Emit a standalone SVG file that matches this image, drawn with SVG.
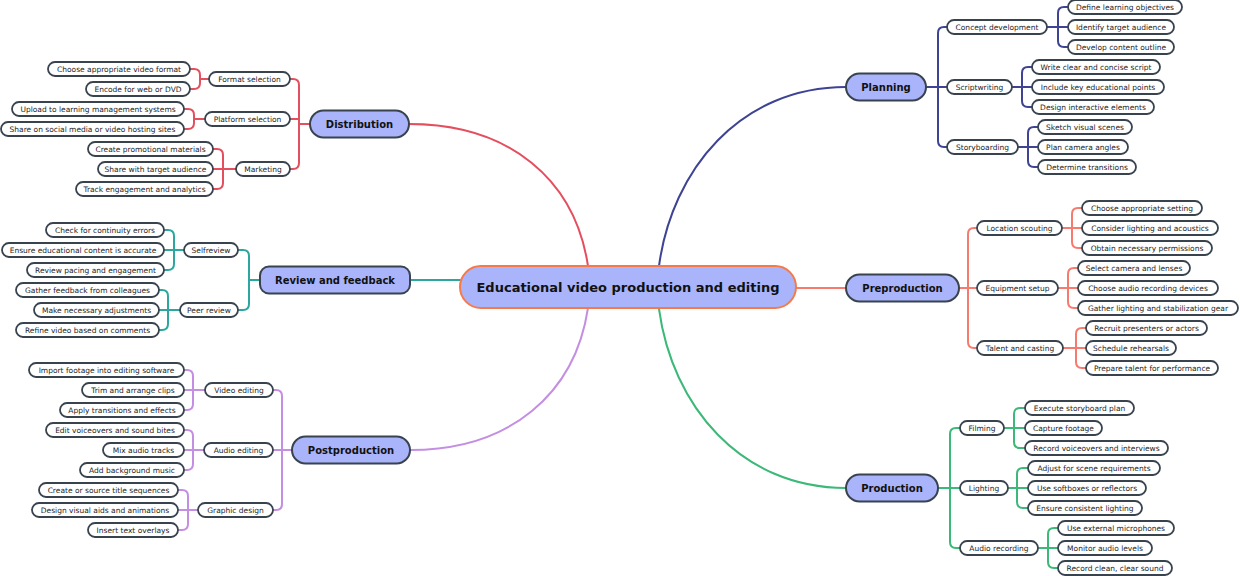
<svg xmlns="http://www.w3.org/2000/svg" width="1240" height="576" viewBox="0 0 1240 576">
<style>
.bg{fill:#ffffff}
.cn{fill:none;stroke-width:2;stroke-linecap:round;stroke-linejoin:round}
.c1{stroke:#3e4393}
.c2{stroke:#f77a6f}
.c3{stroke:#3cb878}
.c4{stroke:#e44f5f}
.c5{stroke:#2ba79f}
.c6{stroke:#c48fe2}
.leaf rect{fill:#ffffff;stroke:#38434e;stroke-width:1.8}
.leaf text{font-family:"DejaVu Sans","Liberation Sans",sans-serif;font-size:7.5px;fill:#1e1e1e;text-anchor:middle;dominant-baseline:central}
.main rect{fill:#a9b4fb;stroke:#38434e;stroke-width:2}
.main text{font-family:"DejaVu Sans","Liberation Sans",sans-serif;font-size:10px;font-weight:bold;fill:#111111;text-anchor:middle;dominant-baseline:central}
.root rect{fill:#a9b4fb;stroke:#f57a47;stroke-width:2}
.root text{font-family:"DejaVu Sans","Liberation Sans",sans-serif;font-size:13px;font-weight:bold;fill:#111111;text-anchor:middle;dominant-baseline:central}
</style>
<rect class="bg" x="0" y="0" width="1240" height="576"/>
<g id="connectors">
<path class="cn c1" d="M659 266C672 170 740 87 846 87"/>
<path class="cn c1" d="M926 87H947M938 87V33Q938 27 944 27H947M938 87V141Q938 147 944 147H947"/>
<path class="cn c1" d="M1047 27H1068M1058 27V13Q1058 7 1064 7H1068M1058 27V41Q1058 47 1064 47H1068"/>
<path class="cn c1" d="M1012 87H1032M1022 87V73Q1022 67 1028 67H1032M1022 87V101Q1022 107 1028 107H1032"/>
<path class="cn c1" d="M1018 147H1038M1028 147V133Q1028 127 1034 127H1038M1028 147V161Q1028 167 1034 167H1038"/>
<path class="cn c2" d="M796 288H846"/>
<path class="cn c2" d="M959 288H977M968 288V234Q968 228 974 228H977M968 288V342Q968 348 974 348H977"/>
<path class="cn c2" d="M1062 228H1082M1072 228V214Q1072 208 1078 208H1082M1072 228V242Q1072 248 1078 248H1082"/>
<path class="cn c2" d="M1058 288H1078M1068 288V274Q1068 268 1074 268H1078M1068 288V302Q1068 308 1074 308H1078"/>
<path class="cn c2" d="M1063 348H1086M1076 348V334Q1076 328 1082 328H1086M1076 348V362Q1076 368 1082 368H1086"/>
<path class="cn c3" d="M659 309C672 405 740 488 846 488"/>
<path class="cn c3" d="M938 488H960M950 488V434Q950 428 956 428H960M950 488V542Q950 548 956 548H960"/>
<path class="cn c3" d="M1004 428H1025M1014 428V414Q1014 408 1020 408H1025M1014 428V442Q1014 448 1020 448H1025"/>
<path class="cn c3" d="M1008 488H1028M1017 488V474Q1017 468 1023 468H1028M1017 488V502Q1017 508 1023 508H1028"/>
<path class="cn c3" d="M1038 548H1058M1048 548V534Q1048 528 1054 528H1058M1048 548V562Q1048 568 1054 568H1058"/>
<path class="cn c4" d="M588 266C575 180 510 124 409 124"/>
<path class="cn c4" d="M310 124H299M299 124V85Q299 79 293 79H290M299 124V163Q299 169 293 169H290M299 119H290"/>
<path class="cn c4" d="M209 79H200M200 79V75Q200 69 194 69H190M200 79V83Q200 89 194 89H190"/>
<path class="cn c4" d="M205 119H194M194 119V115Q194 109 188 109H184M194 119V123Q194 129 188 129H184"/>
<path class="cn c4" d="M236 169H213M223 169V155Q223 149 217 149H213M223 169V183Q223 189 217 189H213"/>
<path class="cn c5" d="M460 280H410"/>
<path class="cn c5" d="M260 280H249M249 280V256Q249 250 243 250H238M249 280V304Q249 310 243 310H238"/>
<path class="cn c5" d="M184 250H164M174 250V236Q174 230 168 230H164M174 250V264Q174 270 168 270H164"/>
<path class="cn c5" d="M180 310H159M168 310V296Q168 290 162 290H159M168 310V324Q168 330 162 330H159"/>
<path class="cn c6" d="M588 308C575 394 510 450 410 450"/>
<path class="cn c6" d="M292 450H273M282 450V396Q282 390 276 390H273M282 450V504Q282 510 276 510H273"/>
<path class="cn c6" d="M205 390H184M193 390V376Q193 370 187 370H184M193 390V404Q193 410 187 410H184"/>
<path class="cn c6" d="M204 450H184M193 450V436Q193 430 187 430H184M193 450V464Q193 470 187 470H184"/>
<path class="cn c6" d="M198 510H178M188 510V496Q188 490 182 490H178M188 510V524Q188 530 182 530H178"/>
</g>
<g id="root" class="root"><rect x="460" y="266" width="336" height="42" rx="21"/><text x="628" y="287">Educational video production and editing</text></g>

<g id="planning" class="main"><rect x="846" y="73.5" width="80" height="27" rx="13.5"/><text x="886" y="87">Planning</text></g>
<g id="concept-development" class="leaf"><rect x="947" y="20" width="100" height="14" rx="7"/><text x="997" y="27">Concept development</text></g>
<g id="scriptwriting" class="leaf"><rect x="947" y="80" width="65" height="14" rx="7"/><text x="979.5" y="87">Scriptwriting</text></g>
<g id="storyboarding" class="leaf"><rect x="947" y="140" width="71" height="14" rx="7"/><text x="982.5" y="147">Storyboarding</text></g>
<g id="define-learning-objectives" class="leaf"><rect x="1068" y="0" width="114" height="14" rx="7"/><text x="1125" y="7">Define learning objectives</text></g>
<g id="identify-target-audience" class="leaf"><rect x="1068" y="20" width="106" height="14" rx="7"/><text x="1121" y="27">Identify target audience</text></g>
<g id="develop-content-outline" class="leaf"><rect x="1068" y="40" width="106" height="14" rx="7"/><text x="1121" y="47">Develop content outline</text></g>
<g id="write-clear-script" class="leaf"><rect x="1032" y="60" width="128" height="14" rx="7"/><text x="1096" y="67">Write clear and concise script</text></g>
<g id="include-key-points" class="leaf"><rect x="1032" y="80" width="132" height="14" rx="7"/><text x="1098" y="87">Include key educational points</text></g>
<g id="design-interactive-elements" class="leaf"><rect x="1032" y="100" width="122" height="14" rx="7"/><text x="1093" y="107">Design interactive elements</text></g>
<g id="sketch-visual-scenes" class="leaf"><rect x="1038" y="120" width="94" height="14" rx="7"/><text x="1085" y="127">Sketch visual scenes</text></g>
<g id="plan-camera-angles" class="leaf"><rect x="1038" y="140" width="90" height="14" rx="7"/><text x="1083" y="147">Plan camera angles</text></g>
<g id="determine-transitions" class="leaf"><rect x="1038" y="160" width="98" height="14" rx="7"/><text x="1087" y="167">Determine transitions</text></g>

<g id="preproduction" class="main"><rect x="846" y="274.5" width="113" height="27" rx="13.5"/><text x="902.5" y="288">Preproduction</text></g>
<g id="location-scouting" class="leaf"><rect x="977" y="221" width="85" height="14" rx="7"/><text x="1019.5" y="228">Location scouting</text></g>
<g id="equipment-setup" class="leaf"><rect x="977" y="281" width="81" height="14" rx="7"/><text x="1017.5" y="288">Equipment setup</text></g>
<g id="talent-and-casting" class="leaf"><rect x="977" y="341" width="86" height="14" rx="7"/><text x="1020" y="348">Talent and casting</text></g>
<g id="choose-setting" class="leaf"><rect x="1082" y="201" width="120" height="14" rx="7"/><text x="1142" y="208">Choose appropriate setting</text></g>
<g id="consider-lighting" class="leaf"><rect x="1082" y="221" width="136" height="14" rx="7"/><text x="1150" y="228">Consider lighting and acoustics</text></g>
<g id="obtain-permissions" class="leaf"><rect x="1082" y="241" width="130" height="14" rx="7"/><text x="1147" y="248">Obtain necessary permissions</text></g>
<g id="select-camera" class="leaf"><rect x="1078" y="261" width="112" height="14" rx="7"/><text x="1134" y="268">Select camera and lenses</text></g>
<g id="choose-audio-devices" class="leaf"><rect x="1078" y="281" width="140" height="14" rx="7"/><text x="1148" y="288">Choose audio recording devices</text></g>
<g id="gather-gear" class="leaf"><rect x="1078" y="301" width="160" height="14" rx="7"/><text x="1158" y="308">Gather lighting and stabilization gear</text></g>
<g id="recruit-presenters" class="leaf"><rect x="1086" y="321" width="121" height="14" rx="7"/><text x="1146.5" y="328">Recruit presenters or actors</text></g>
<g id="schedule-rehearsals" class="leaf"><rect x="1086" y="341" width="90" height="14" rx="7"/><text x="1131" y="348">Schedule rehearsals</text></g>
<g id="prepare-talent" class="leaf"><rect x="1086" y="361" width="132" height="14" rx="7"/><text x="1152" y="368">Prepare talent for performance</text></g>

<g id="production" class="main"><rect x="846" y="474.5" width="92" height="27" rx="13.5"/><text x="892" y="488">Production</text></g>
<g id="filming" class="leaf"><rect x="960" y="421" width="44" height="14" rx="7"/><text x="982" y="428">Filming</text></g>
<g id="lighting" class="leaf"><rect x="960" y="481" width="48" height="14" rx="7"/><text x="984" y="488">Lighting</text></g>
<g id="audio-recording" class="leaf"><rect x="960" y="541" width="78" height="14" rx="7"/><text x="999" y="548">Audio recording</text></g>
<g id="execute-storyboard" class="leaf"><rect x="1025" y="401" width="109" height="14" rx="7"/><text x="1079.5" y="408">Execute storyboard plan</text></g>
<g id="capture-footage" class="leaf"><rect x="1025" y="421" width="77" height="14" rx="7"/><text x="1063.5" y="428">Capture footage</text></g>
<g id="record-voiceovers" class="leaf"><rect x="1025" y="441" width="143" height="14" rx="7"/><text x="1096.5" y="448">Record voiceovers and interviews</text></g>
<g id="adjust-scene" class="leaf"><rect x="1028" y="461" width="132" height="14" rx="7"/><text x="1094" y="468">Adjust for scene requirements</text></g>
<g id="use-softboxes" class="leaf"><rect x="1028" y="481" width="118" height="14" rx="7"/><text x="1087" y="488">Use softboxes or reflectors</text></g>
<g id="ensure-lighting" class="leaf"><rect x="1028" y="501" width="114" height="14" rx="7"/><text x="1085" y="508">Ensure consistent lighting</text></g>
<g id="use-microphones" class="leaf"><rect x="1058" y="521" width="116" height="14" rx="7"/><text x="1116" y="528">Use external microphones</text></g>
<g id="monitor-audio" class="leaf"><rect x="1058" y="541" width="94" height="14" rx="7"/><text x="1105" y="548">Monitor audio levels</text></g>
<g id="record-clean" class="leaf"><rect x="1058" y="561" width="114" height="14" rx="7"/><text x="1115" y="568">Record clean, clear sound</text></g>

<g id="distribution" class="main"><rect x="310" y="110.5" width="99" height="27" rx="13.5"/><text x="359.5" y="124">Distribution</text></g>
<g id="format-selection" class="leaf"><rect x="209" y="72" width="81" height="14" rx="7"/><text x="249.5" y="79">Format selection</text></g>
<g id="platform-selection" class="leaf"><rect x="205" y="112" width="85" height="14" rx="7"/><text x="247.5" y="119">Platform selection</text></g>
<g id="marketing" class="leaf"><rect x="236" y="162" width="54" height="14" rx="7"/><text x="263" y="169">Marketing</text></g>
<g id="choose-format" class="leaf"><rect x="48" y="62" width="142" height="14" rx="7"/><text x="119" y="69">Choose appropriate video format</text></g>
<g id="encode" class="leaf"><rect x="86" y="82" width="104" height="14" rx="7"/><text x="138" y="89">Encode for web or DVD</text></g>
<g id="upload-lms" class="leaf"><rect x="12" y="102" width="172" height="14" rx="7"/><text x="98" y="109">Upload to learning management systems</text></g>
<g id="share-social" class="leaf"><rect x="1" y="122" width="183" height="14" rx="7"/><text x="92.5" y="129">Share on social media or video hosting sites</text></g>
<g id="create-promo" class="leaf"><rect x="88" y="142" width="125" height="14" rx="7"/><text x="150.5" y="149">Create promotional materials</text></g>
<g id="share-audience" class="leaf"><rect x="98" y="162" width="115" height="14" rx="7"/><text x="155.5" y="169">Share with target audience</text></g>
<g id="track-engagement" class="leaf"><rect x="76" y="182" width="137" height="14" rx="7"/><text x="144.5" y="189">Track engagement and analytics</text></g>

<g id="review-and-feedback" class="main"><rect x="260" y="266.5" width="150" height="27" rx="9"/><text x="335" y="280">Review and feedback</text></g>
<g id="selfreview" class="leaf"><rect x="184" y="243" width="54" height="14" rx="7"/><text x="211" y="250">Selfreview</text></g>
<g id="peer-review" class="leaf"><rect x="180" y="303" width="58" height="14" rx="7"/><text x="209" y="310">Peer review</text></g>
<g id="check-continuity" class="leaf"><rect x="46" y="223" width="118" height="14" rx="7"/><text x="105" y="230">Check for continuity errors</text></g>
<g id="ensure-accurate" class="leaf"><rect x="2" y="243" width="162" height="14" rx="7"/><text x="83" y="250">Ensure educational content is accurate</text></g>
<g id="review-pacing" class="leaf"><rect x="27" y="263" width="137" height="14" rx="7"/><text x="95.5" y="270">Review pacing and engagement</text></g>
<g id="gather-feedback" class="leaf"><rect x="16" y="283" width="143" height="14" rx="7"/><text x="87.5" y="290">Gather feedback from colleagues</text></g>
<g id="make-adjustments" class="leaf"><rect x="34" y="303" width="125" height="14" rx="7"/><text x="96.5" y="310">Make necessary adjustments</text></g>
<g id="refine-video" class="leaf"><rect x="16" y="323" width="143" height="14" rx="7"/><text x="87.5" y="330">Refine video based on comments</text></g>

<g id="postproduction" class="main"><rect x="292" y="436.5" width="118" height="27" rx="13.5"/><text x="351" y="450">Postproduction</text></g>
<g id="video-editing" class="leaf"><rect x="205" y="383" width="68" height="14" rx="7"/><text x="239" y="390">Video editing</text></g>
<g id="audio-editing" class="leaf"><rect x="204" y="443" width="69" height="14" rx="7"/><text x="238.5" y="450">Audio editing</text></g>
<g id="graphic-design" class="leaf"><rect x="198" y="503" width="75" height="14" rx="7"/><text x="235.5" y="510">Graphic design</text></g>
<g id="import-footage" class="leaf"><rect x="29" y="363" width="155" height="14" rx="7"/><text x="106.5" y="370">Import footage into editing software</text></g>
<g id="trim-clips" class="leaf"><rect x="82" y="383" width="102" height="14" rx="7"/><text x="133" y="390">Trim and arrange clips</text></g>
<g id="apply-transitions" class="leaf"><rect x="60" y="403" width="124" height="14" rx="7"/><text x="122" y="410">Apply transitions and effects</text></g>
<g id="edit-voiceovers" class="leaf"><rect x="46" y="423" width="138" height="14" rx="7"/><text x="115" y="430">Edit voiceovers and sound bites</text></g>
<g id="mix-audio" class="leaf"><rect x="103" y="443" width="81" height="14" rx="7"/><text x="143.5" y="450">Mix audio tracks</text></g>
<g id="add-music" class="leaf"><rect x="80" y="463" width="104" height="14" rx="7"/><text x="132" y="470">Add background music</text></g>
<g id="create-titles" class="leaf"><rect x="39" y="483" width="139" height="14" rx="7"/><text x="108.5" y="490">Create or source title sequences</text></g>
<g id="design-visual-aids" class="leaf"><rect x="32" y="503" width="146" height="14" rx="7"/><text x="105" y="510">Design visual aids and animations</text></g>
<g id="insert-overlays" class="leaf"><rect x="88" y="523" width="90" height="14" rx="7"/><text x="133" y="530">Insert text overlays</text></g>
</svg>
